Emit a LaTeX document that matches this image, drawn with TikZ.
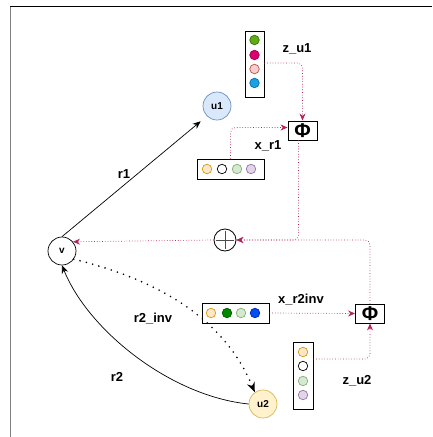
\documentclass[tikz,border=0pt]{standalone}
\usepackage{fontspec}
\setmainfont{Liberation Sans}
\usetikzlibrary{arrows.meta, positioning}

\definecolor{linkred}{HTML}{A50040}
\definecolor{u1fill}{HTML}{DAE8FC}
\definecolor{u1line}{HTML}{6C8EBF}
\definecolor{u2fill}{HTML}{FFF2CC}
\definecolor{u2line}{HTML}{D6B656}
\definecolor{orfill}{HTML}{FFE6CC}
\definecolor{orline}{HTML}{D79B00}
\definecolor{lgfill}{HTML}{D5E8D4}
\definecolor{lgline}{HTML}{82B366}
\definecolor{pufill}{HTML}{E1D5E7}
\definecolor{puline}{HTML}{9673A6}
\definecolor{gnfill}{HTML}{60A917}
\definecolor{gnline}{HTML}{2D7600}
\definecolor{dgfill}{HTML}{008A00}
\definecolor{dgline}{HTML}{005700}
\definecolor{mgfill}{HTML}{D80073}
\definecolor{mgline}{HTML}{A50040}
\definecolor{pkfill}{HTML}{F8CECC}
\definecolor{pkline}{HTML}{B85450}
\definecolor{cyfill}{HTML}{1BA1E2}
\definecolor{cyline}{HTML}{006EAF}
\definecolor{blfill}{HTML}{0050EF}
\definecolor{blline}{HTML}{001DBC}

\begin{document}
\begin{tikzpicture}[x=1pt, y=-1pt,
    ent/.style={circle, draw, line width=0.7pt, minimum size=28pt, inner sep=0pt,
                font=\bfseries\fontsize{10}{10}\selectfont},
    vecbox/.style={rectangle, draw, line width=0.9pt, inner sep=0pt},
    dot/.style={circle, draw, line width=0.7pt, minimum size=9.5pt, inner sep=0pt},
    phibox/.style={rectangle, draw, line width=0.9pt, minimum width=29pt,
                   minimum height=19pt, inner sep=0pt,
                   font=\bfseries\fontsize{20}{20}\selectfont},
    lbl/.style={font=\bfseries\fontsize{13}{13}\selectfont},
    rel/.style={-{Stealth[length=8pt,width=6.5pt]}, line width=0.7pt},
    msg/.style={-{Stealth[length=7pt,width=6pt]}, linkred!85, line width=0.7pt,
                dotted, rounded corners=5pt},
  ]
  \useasboundingbox (0,0) rectangle (432,437);

  % frame edges
  \draw[gray, line width=0.9pt] (10,437) -- (10,6);
  \draw[line width=0.9pt] (10,6) -- (432,6);

  % entities
  \node[ent] (v) at (62,251) {v};
  \node[ent, fill=u1fill, draw=u1line] (u1) at (217,106) {u1};
  \node[ent, fill=u2fill, draw=u2line] (u2) at (263,404) {u2};

  % embedding of u1
  \node[vecbox, minimum width=19pt, minimum height=66pt] (zu1) at (254.5,64) {};
  \node[dot, fill=gnfill, draw=gnline] (zu1a) at (254.5,40) {};
  \node[dot, fill=mgfill, draw=mgline] (zu1b) at (254.5,55) {};
  \node[dot, fill=pkfill, draw=pkline] (zu1c) at (254.5,69) {};
  \node[dot, fill=cyfill, draw=cyline] (zu1d) at (254.5,83) {};

  % embedding of r1
  \node[vecbox, minimum width=67pt, minimum height=20pt] (xr1) at (230.5,169) {};
  \node[dot, fill=orfill, draw=orline] (xr1a) at (207,169) {};
  \node[dot] (xr1b) at (222,169) {};
  \node[dot, fill=lgfill, draw=lgline] (xr1c) at (237,169) {};
  \node[dot, fill=pufill, draw=puline] (xr1d) at (251,169) {};

  % embedding of r2_inv
  \node[vecbox, minimum width=67pt, minimum height=20pt] (xr2) at (235.5,313) {};
  \node[dot, fill=orfill, draw=orline] (xr2a) at (211,313) {};
  \node[dot, fill=dgfill, draw=dgline] (xr2b) at (227,313) {};
  \node[dot, fill=lgfill, draw=lgline] (xr2c) at (241,313) {};
  \node[dot, fill=blfill, draw=blline] (xr2d) at (255,313) {};

  % embedding of u2
  \node[vecbox, minimum width=20pt, minimum height=67pt] (zu2) at (303,375.5) {};
  \node[dot, fill=orfill, draw=orline] (zu2a) at (303,352) {};
  \node[dot] (zu2b) at (303,366) {};
  \node[dot, fill=lgfill, draw=lgline] (zu2c) at (303,381) {};
  \node[dot, fill=pufill, draw=puline] (zu2d) at (303,395) {};

  % message functions and aggregation
  \node[phibox] (phi1) at (302.5,130.5) {Φ};
  \node[phibox] (phi2) at (370,313.5) {Φ};
  \node[circle, draw, line width=0.8pt, minimum size=22pt, inner sep=0pt] (plus) at (225,240) {};
  \draw[gray!60!black, line width=0.9pt, shorten <=2pt, shorten >=2pt] (plus.north) -- (plus.south);
  \draw[gray!60!black, line width=0.9pt, shorten <=2pt, shorten >=2pt] (plus.west) -- (plus.east);

  % labels
  \node[lbl] (lr1) at (124,174) {r1};
  \node[lbl] (lr2) at (117,377) {r2};
  \node[lbl] (lr2inv) at (153,319) {r2\_inv};
  \node[lbl] (lzu1) at (297,49) {z\_u1};
  \node[lbl] (lxr1) at (268,146) {x\_r1};
  \node[lbl] (lxr2) at (301,300) {x\_r2inv};
  \node[lbl] (lzu2) at (357,381) {z\_u2};

  % relations
  \draw[rel, shorten >=8pt] (v.north) -- (u1.south west);
  \draw[rel] (u2.west) .. controls (170,396) and (88,330) .. (v.south);
  \draw[-{Stealth[length=10pt,width=8pt]}, line width=1.8pt, line cap=round,
        dash pattern=on 0pt off 6.5pt]
    (v.-35) .. controls (160,280) and (225,320) .. (u2.125);

  % message passing
  \draw[msg] ([yshift=1pt]zu1.east) -| (phi1.north);
  \draw[msg] (xr1.north) |- ([yshift=3pt]phi1.west);
  \draw[msg] ([xshift=-4pt]phi1.south) |- (plus.east);
  \draw[msg] (xr2.east) -- (phi2.west);
  \draw[msg] ([yshift=16.5pt]zu2.east) -| (phi2.south);
  \draw[msg] (phi2.north) |- (plus.east);
  \draw[msg] (plus.west) -- (v.40);
\end{tikzpicture}
\end{document}
